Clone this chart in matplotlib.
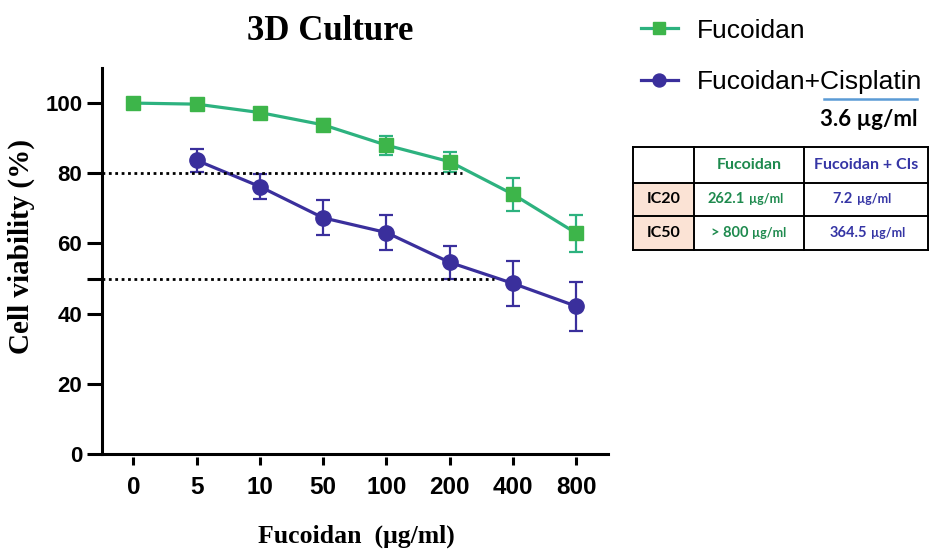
import matplotlib
matplotlib.use("Agg")
import matplotlib.pyplot as plt
from matplotlib.patches import Rectangle
from matplotlib.lines import Line2D

# ---------------- data ----------------
doses = ["0", "5", "10", "50", "100", "200", "400", "800"]
fuc_mean = [100.0, 99.7, 97.3, 93.8, 88.0, 83.3, 74.0, 62.9]
fuc_err = [0.5, 0.6, 1.0, 1.6, 2.7, 2.8, 4.7, 5.3]
combo_x = [1, 2, 3, 4, 5, 6, 7]
combo_mean = [83.7, 76.2, 67.3, 63.1, 54.6, 48.6, 42.1]
combo_err = [3.2, 3.6, 5.0, 5.1, 4.6, 6.5, 7.0]
ref_levels = [80, 50]
ref_x_end = [5.2, 5.7]
yticks = [0, 20, 40, 60, 80, 100]

series_names = ["Fucoidan", "Fucoidan+Cisplatin"]
table_header = ["", "Fucoidan", "Fucoidan + CIs"]
table_rows = ["IC20", "IC50"]
table_fuc = ["262.1", "> 800"]
table_combo = ["7.2", "364.5"]
unit = "\u00b5g/ml"

# ---------------- style ----------------
GREEN_LINE = "#2DB27F"
GREEN_MK = "#3DB54A"
BLUE = "#3A2F9C"
TGREEN = "#1E8A4E"
TBLUE = "#3535A5"

fig = plt.figure(figsize=(9.3, 5.52), dpi=100)
ax = fig.add_axes([101.7 / 930, 98 / 552, (608 - 101.7) / 930, (454 - 68) / 552])

x_f = list(range(len(doses)))
ax.errorbar(x_f, fuc_mean, yerr=fuc_err, fmt="none", ecolor=GREEN_LINE,
            elinewidth=1.6, capsize=5, capthick=1.6, zorder=3)
l1, = ax.plot(x_f, fuc_mean, color=GREEN_LINE, lw=2.3, marker="s", ms=10,
              mfc=GREEN_MK, mec=GREEN_MK, zorder=4)
ax.errorbar(combo_x, combo_mean, yerr=combo_err, fmt="none", ecolor=BLUE,
            elinewidth=1.6, capsize=5, capthick=1.6, zorder=3)
l2, = ax.plot(combo_x, combo_mean, color=BLUE, lw=2.3, marker="o", ms=11,
              mfc=BLUE, mec=BLUE, zorder=4)

for lvl, xe in zip(ref_levels, ref_x_end):
    ax.plot([-0.5, xe], [lvl, lvl], color="black", lw=2.0,
            ls=(0, (1, 1.3)), zorder=5)

ax.set_xlim(-0.5, 7.5)
ax.set_ylim(0, 110)
ax.spines["top"].set_visible(False)
ax.spines["right"].set_visible(False)
ax.spines["left"].set_linewidth(2.2)
ax.spines["bottom"].set_visible(False)
ax.spines["bottom"].set_position(("outward", 2.5))
ax.axhline(0, color="black", lw=2.2, clip_on=False, zorder=6)

ax.set_xticks(x_f)
ax.set_xticklabels(doses)
ax.set_yticks(yticks)
ax.set_yticks([50], minor=True)
ax.tick_params(axis="y", which="both", length=10.5, width=2.2, pad=3.5)
ax.tick_params(axis="x", length=5.5, width=2.2, pad=8)
for lab in ax.get_yticklabels():
    lab.set_fontfamily(["Liberation Sans"])
    lab.set_fontweight("bold")
    lab.set_fontsize(16)
for lab in ax.get_xticklabels():
    lab.set_fontfamily(["Liberation Sans"])
    lab.set_fontweight("bold")
    lab.set_fontsize(17.5)

serif = ["Liberation Serif", "DejaVu Serif"]
fig.text(330 / 930, 1 - 31 / 552, "3D Culture", family=serif, weight="bold",
         fontsize=25, ha="center", va="center")
fig.text(21 / 930, 1 - 246 / 552, "Cell viability (%)", family=serif,
         weight="bold", fontsize=21, rotation=90, ha="center", va="center")
fig.text(356 / 930, 1 - 536 / 552, "Fucoidan  (\u03bcg/ml)", family=serif,
         weight="bold", fontsize=18.5, ha="center", va="center")

# legend
fig.legend([l1, l2], series_names, loc="upper left",
           bbox_to_anchor=(630 / 930, 1 - 8 / 552), frameon=False,
           prop={"family": ["Liberation Sans"], "size": 19},
           handlelength=1.4, handletextpad=0.75, labelspacing=1.05,
           markerscale=0.85, borderaxespad=0)

# underline & cisplatin dose
fig.add_artist(Line2D([824 / 930, 917 / 930], [1 - 99 / 552, 1 - 99 / 552],
                      color="#5B9BD5", lw=1.8, transform=fig.transFigure))
fig.text(917 / 930, 1 - 120 / 552, "3.6 \u00b5g/ml", family=["Lato", "DejaVu Sans"],
         weight="bold", fontsize=16, ha="right", va="center")

# table
col_edges = [633, 694, 804, 928]
row_edges = [147, 182.5, 216, 250]
W, H = 930, 552
for i in range(1, 3):
    fig.add_artist(Rectangle((col_edges[0] / W, 1 - row_edges[i + 1] / H),
                             (col_edges[1] - col_edges[0]) / W,
                             (row_edges[i + 1] - row_edges[i]) / H,
                             facecolor="#FBE3D5", edgecolor="none",
                             transform=fig.transFigure))
for xe in col_edges:
    fig.add_artist(Line2D([xe / W, xe / W], [1 - row_edges[0] / H, 1 - row_edges[-1] / H],
                          color="black", lw=1.4, transform=fig.transFigure))
for ye in row_edges:
    fig.add_artist(Line2D([col_edges[0] / W, col_edges[-1] / W], [1 - ye / H, 1 - ye / H],
                          color="black", lw=1.4, transform=fig.transFigure))

tfont = ["Lato", "DejaVu Sans"]
def ycen(r):
    return 1 - (row_edges[r] + row_edges[r + 1]) / 2 / H
def xcen(c):
    return (col_edges[c] + col_edges[c + 1]) / 2 / W

fig.text(xcen(1), ycen(0), table_header[1], family=tfont, weight="bold",
         fontsize=11.5, color=TGREEN, ha="center", va="center")
fig.text(xcen(2), ycen(0), table_header[2], family=tfont, weight="bold",
         fontsize=11.5, color=TBLUE, ha="center", va="center")
num_right_f = [745, 748]
num_right_c = [853, 867]
for r in range(2):
    fig.text(xcen(0), ycen(r + 1), table_rows[r], family=tfont, weight="bold",
             fontsize=11.5, color="black", ha="center", va="center")
    fig.text(num_right_f[r] / W, ycen(r + 1), table_fuc[r], family=tfont,
             weight="bold", fontsize=10.5, color=TGREEN, ha="right", va="center")
    fig.text((num_right_f[r] + 4) / W, ycen(r + 1), unit, family=tfont,
             weight="bold", fontsize=9, color=TGREEN, ha="left", va="center")
    fig.text(num_right_c[r] / W, ycen(r + 1), table_combo[r], family=tfont,
             weight="bold", fontsize=10.5, color=TBLUE, ha="right", va="center")
    fig.text((num_right_c[r] + 4) / W, ycen(r + 1), unit, family=tfont,
             weight="bold", fontsize=9, color=TBLUE, ha="left", va="center")

fig.savefig("out.png", dpi=100)
